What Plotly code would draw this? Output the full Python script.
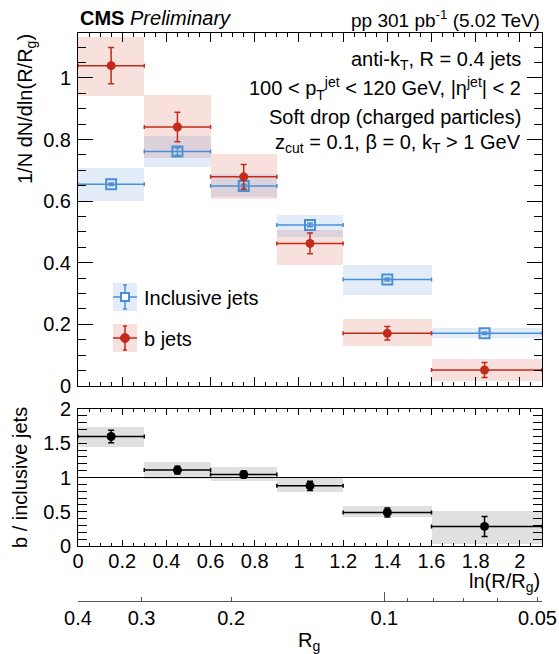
import numpy as np
import plotly.graph_objects as go

# ---------------- data ----------------
bin_lo = [0.0, 0.3, 0.6, 0.9, 1.2, 1.6]
bin_hi = [0.3, 0.6, 0.9, 1.2, 1.6, 2.1]
x_pts = [0.15, 0.45, 0.75, 1.05, 1.40, 1.84]

incl_val = [0.655, 0.761, 0.649, 0.523, 0.346, 0.171]
incl_stat = [0.004, 0.012, 0.006, 0.006, 0.005, 0.004]
incl_sys_lo = [0.600, 0.712, 0.612, 0.484, 0.295, 0.156]
incl_sys_hi = [0.708, 0.812, 0.688, 0.555, 0.393, 0.187]

b_val = [1.040, 0.841, 0.679, 0.463, 0.171, 0.052]
b_stat = [0.059, 0.048, 0.040, 0.034, 0.022, 0.024]
b_sys_lo = [0.943, 0.740, 0.607, 0.392, 0.130, 0.015]
b_sys_hi = [1.134, 0.945, 0.752, 0.505, 0.217, 0.088]

ratio_val = [1.598, 1.108, 1.044, 0.879, 0.490, 0.286]
ratio_stat = [0.092, 0.058, 0.050, 0.068, 0.065, 0.146]
ratio_sys_lo = [1.443, 0.977, 0.942, 0.787, 0.417, 0.030]
ratio_sys_hi = [1.735, 1.233, 1.156, 0.990, 0.577, 0.505]

R_jet = 0.4
rg_ticks = [0.4, 0.3, 0.2, 0.1, 0.05]
rg_tick_text = ["0.4", "0.3", "0.2", "0.1", "0.05"]
rg_minor = [0.09, 0.08, 0.07, 0.06]

# ---------------- style ----------------
FONT = "Liberation Sans, Arial, sans-serif"
BLUE = "#4a8fd6"
RED = "#c22a1a"
BLUE_BAND = "rgba(60,130,215,0.14)"
RED_BAND = "rgba(205,50,30,0.15)"
GREY_BAND = "rgba(0,0,0,0.12)"

W, H = 559, 654
ML, MR, MT, MB = 78, 17, 33, 53
PW = W - ML - MR
PH = H - MT - MB


def px(x):
    return (x - ML) / PW


def py(y):
    return (H - MB - y) / PH


lo = np.array(bin_lo)
hi = np.array(bin_hi)
xc = np.array(x_pts)
centers = (lo + hi) / 2
widths = hi - lo
ex_plus = hi - xc
ex_minus = xc - lo

fig = go.Figure()

# systematic bands (bars)
fig.add_trace(go.Bar(x=centers, y=np.array(b_sys_hi) - np.array(b_sys_lo), base=b_sys_lo,
                     width=widths, marker=dict(color=RED_BAND, line=dict(width=0)),
                     xaxis="x", yaxis="y", showlegend=False, hoverinfo="skip"))
fig.add_trace(go.Bar(x=centers, y=np.array(incl_sys_hi) - np.array(incl_sys_lo), base=incl_sys_lo,
                     width=widths, marker=dict(color=BLUE_BAND, line=dict(width=0)),
                     xaxis="x", yaxis="y", showlegend=False, hoverinfo="skip"))
fig.add_trace(go.Bar(x=centers, y=np.array(ratio_sys_hi) - np.array(ratio_sys_lo), base=ratio_sys_lo,
                     width=widths, marker=dict(color=GREY_BAND, line=dict(width=0)),
                     xaxis="x2", yaxis="y2", showlegend=False, hoverinfo="skip"))

# points
fig.add_trace(go.Scatter(
    x=xc, y=incl_val, mode="markers", xaxis="x", yaxis="y", showlegend=False,
    marker=dict(symbol="square-open", size=10, color=BLUE, line=dict(width=2, color=BLUE)),
    error_x=dict(type="data", symmetric=False, array=ex_plus, arrayminus=ex_minus,
                 color=BLUE, thickness=1.5, width=2),
    error_y=dict(type="data", array=incl_stat, color=BLUE, thickness=1.5, width=3)))
fig.add_trace(go.Scatter(
    x=xc, y=b_val, mode="markers", xaxis="x", yaxis="y", showlegend=False,
    marker=dict(symbol="circle", size=9, color=RED),
    error_x=dict(type="data", symmetric=False, array=ex_plus, arrayminus=ex_minus,
                 color=RED, thickness=1.5, width=2),
    error_y=dict(type="data", array=b_stat, color=RED, thickness=1.5, width=3)))
fig.add_trace(go.Scatter(
    x=xc, y=ratio_val, mode="markers", xaxis="x2", yaxis="y2", showlegend=False,
    marker=dict(symbol="circle", size=9, color="black"),
    error_x=dict(type="data", symmetric=False, array=ex_plus, arrayminus=ex_minus,
                 color="black", thickness=1.5, width=2),
    error_y=dict(type="data", array=ratio_stat, color="black", thickness=1.5, width=3)))

# dummy traces for the R_g axes
fig.add_trace(go.Scatter(x=[0.5], y=[1], xaxis="x3", yaxis="y2", mode="markers",
                         marker=dict(opacity=0), showlegend=False, hoverinfo="skip"))
fig.add_trace(go.Scatter(x=[0.5], y=[1], xaxis="x4", yaxis="y2", mode="markers",
                         marker=dict(opacity=0), showlegend=False, hoverinfo="skip"))

XR = [0, 2.1]
tickfont = dict(family=FONT, size=20, color="black")
common_x = dict(range=XR, showgrid=False, zeroline=False, ticks="inside", tick0=0, dtick=0.2,
                showline=True, linecolor="black", linewidth=1, mirror="allticks",
                tickcolor="black", tickfont=tickfont, automargin=False)

ylo_top, yhi_top = py(386), 1.0
ylo_rat, yhi_rat = py(546), py(409)

fig.update_layout(
    width=W, height=H, margin=dict(l=ML, r=MR, t=MT, b=MB, autoexpand=False),
    paper_bgcolor="white", plot_bgcolor="rgba(0,0,0,0)",
    barmode="overlay", bargap=0, showlegend=False,
    font=dict(family=FONT, size=20, color="black"),
    xaxis=dict(**common_x, domain=[0, 1], anchor="y", showticklabels=False, ticklen=9,
               minor=dict(ticks="inside", dtick=0.05, ticklen=4, tickcolor="black")),
    yaxis=dict(domain=[ylo_top, yhi_top], anchor="x", range=[0, 1.146], showgrid=False,
               zeroline=False, ticks="inside", tick0=0, dtick=0.2, ticklen=15,
               showline=True, linecolor="black", linewidth=1, mirror="allticks",
               tickcolor="black", tickfont=tickfont, ticklabelstandoff=2, automargin=False,
               minor=dict(ticks="inside", dtick=0.05, ticklen=8, tickcolor="black")),
    xaxis2=dict(**common_x, domain=[0, 1], anchor="y2", ticklen=6, ticklabelstandoff=-3,
                minor=dict(ticks="inside", dtick=0.05, ticklen=3, tickcolor="black")),
    yaxis2=dict(domain=[ylo_rat, yhi_rat], anchor="x2", range=[0, 2], showgrid=False,
                zeroline=False, ticks="inside", tick0=0, dtick=0.5, ticklen=9,
                showline=True, linecolor="black", linewidth=1, mirror="allticks",
                tickcolor="black", tickfont=tickfont, ticklabelstandoff=2, automargin=False,
                minor=dict(ticks="inside", dtick=0.1, ticklen=4.5, tickcolor="black")),
    xaxis3=dict(range=XR, overlaying="x2", anchor="free", position=0, side="bottom",
                showgrid=False, zeroline=False, showline=True, linecolor="#555", linewidth=1,
                ticks="inside", ticklen=4, tickcolor="#555", automargin=False,
                tickvals=[float(np.log(R_jet / v)) for v in rg_ticks], ticktext=rg_tick_text,
                tickfont=tickfont, ticklabelstandoff=-1,
                minor=dict(ticks="inside", ticklen=3.5, tickcolor="#555",
                           tickvals=[float(np.log(R_jet / v)) for v in rg_minor])),
    xaxis4=dict(range=XR, overlaying="x2", anchor="free", position=0, side="bottom",
                showgrid=False, zeroline=False, showline=False, showticklabels=False,
                ticks="inside", ticklen=9, tickcolor="#555", automargin=False,
                tickvals=[float(np.log(R_jet / 0.1))]),
)

# ratio = 1 line
fig.add_shape(type="line", xref="x2 domain", yref="y2", x0=0, x1=1, y0=1, y1=1,
              line=dict(color="black", width=1))

ann = []
# headers
ann.append(dict(text="<b>CMS</b> <i>Preliminary</i>", x=px(78), y=py(18), xanchor="left",
                yanchor="middle", font=dict(size=20)))
ann.append(dict(text="pp 301 pb<sup>-1</sup> (5.02 TeV)", x=px(542), y=py(19),
                xanchor="right", yanchor="middle", font=dict(size=19)))
# info text
info = ["anti-k<sub>T</sub>, R = 0.4 jets",
        "100 &lt; p<sub>T</sub><sup>jet</sup> &lt; 120 GeV, |η<sup>jet</sup>| &lt; 2",
        "Soft drop (charged particles)",
        "z<sub>cut</sub> = 0.1, β = 0, k<sub>T</sub> &gt; 1 GeV"]
info_y = [60, 88, 117, 143]
for t, yy in zip(info, info_y):
    ann.append(dict(text=t, x=px(523), y=py(yy), xanchor="right", yanchor="middle",
                    font=dict(size=20)))
# axis titles
ann.append(dict(text="1/N dN/dln(R/R<sub>g</sub>)", x=px(27), y=py(32), textangle=-90,
                xanchor="center", yanchor="top", font=dict(size=20)))
ann.append(dict(text="b / inclusive jets", x=px(20), y=py(478), textangle=-90,
                xanchor="center", yanchor="middle", font=dict(size=20)))
ann.append(dict(text="ln(R/R<sub>g</sub>)", x=px(542), y=py(582), xanchor="right",
                yanchor="middle", font=dict(size=20)))
ann.append(dict(text="R<sub>g</sub>", x=px(309), y=py(641), xanchor="center",
                yanchor="middle", font=dict(size=20)))
# legend text
ann.append(dict(text="Inclusive jets", x=px(142), y=py(298), xanchor="left", yanchor="middle",
                font=dict(size=20)))
ann.append(dict(text="b jets", x=px(142), y=py(339), xanchor="left", yanchor="middle",
                font=dict(size=20)))
for a in ann:
    a.update(xref="paper", yref="paper", showarrow=False)
fig.update_layout(annotations=ann)

# legend symbols (paper coordinates)
def legend_symbol(yc, band, color, kind):
    shapes = []
    shapes.append(dict(type="rect", x0=px(113), x1=px(137), y0=py(yc - 14), y1=py(yc + 14),
                       fillcolor=band, line=dict(width=0)))
    shapes.append(dict(type="line", x0=px(113), x1=px(137), y0=py(yc), y1=py(yc),
                       line=dict(color=color, width=1.5)))
    shapes.append(dict(type="line", x0=px(125), x1=px(125), y0=py(yc - 12), y1=py(yc + 12),
                       line=dict(color=color, width=1.5)))
    for dy in (-12, 12):
        shapes.append(dict(type="line", x0=px(123), x1=px(127), y0=py(yc + dy), y1=py(yc + dy),
                           line=dict(color=color, width=1.5)))
    if kind == "square":
        shapes.append(dict(type="rect", x0=px(121), x1=px(129), y0=py(yc - 4), y1=py(yc + 4),
                           fillcolor="white", line=dict(color=color, width=2)))
    else:
        shapes.append(dict(type="circle", x0=px(120.5), x1=px(129.5), y0=py(yc - 4.5),
                           y1=py(yc + 4.5), fillcolor=color, line=dict(color=color, width=1)))
    for s in shapes:
        s.update(xref="paper", yref="paper")
        fig.add_shape(**s)


legend_symbol(297, BLUE_BAND, BLUE, "square")
legend_symbol(338, RED_BAND, RED, "circle")

fig.write_html("out.html", config={"displayModeBar": False},
               post_script="document.body.style.margin='0';"
                           "document.body.style.overflow='hidden';")
